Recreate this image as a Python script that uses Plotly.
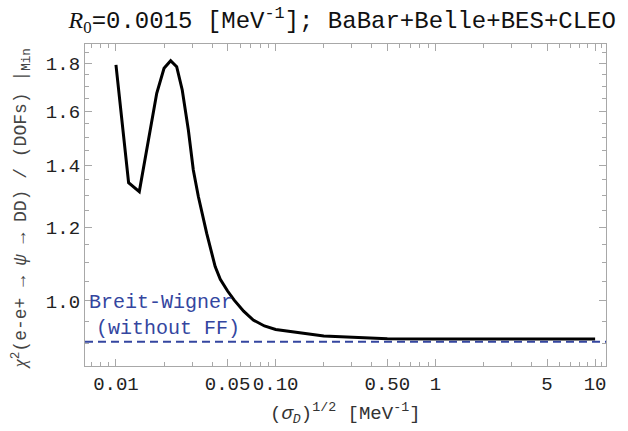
import numpy as np
import plotly.graph_objects as go

# ---- data ----
sigma_sqrt = [0.01, 0.012, 0.014, 0.018, 0.02, 0.022, 0.024, 0.026, 0.0284, 0.0305,
              0.0328, 0.037, 0.0418, 0.045, 0.05, 0.055, 0.063, 0.0724, 0.085, 0.1,
              0.2, 0.5, 1, 2, 5, 10]
chi2_min = [1.794, 1.340, 1.311, 1.672, 1.779, 1.813, 1.786, 1.686, 1.527, 1.383,
            1.295, 1.182, 1.089, 1.055, 1.025, 1.002, 0.975, 0.954, 0.940, 0.932,
            0.917, 0.911, 0.910, 0.910, 0.910, 0.910]
breit_wigner = 0.904

x_tickvals = [0.01, 0.05, 0.1, 0.5, 1, 5, 10]
x_ticktext = ["0.01", "0.05", "0.10", "0.50", "1", "5", "10"]
x_minor = [0.007, 0.008, 0.009, 0.02, 0.03, 0.04, 0.06, 0.07, 0.08, 0.09,
           0.2, 0.3, 0.4, 0.6, 0.7, 0.8, 0.9, 2, 3, 4, 6, 7, 8, 9, 11]
y_tickvals = [1.0, 1.2, 1.4, 1.6, 1.8]
y_ticktext = ["1.0", "1.2", "1.4", "1.6", "1.8"]
y_minor = [0.85, 0.9, 0.95, 1.05, 1.1, 1.15, 1.25, 1.3, 1.35, 1.45, 1.5, 1.55,
           1.65, 1.7, 1.75, 1.85]

MONO = "Liberation Mono, Courier New, monospace"
FRAME = "#a8a8a8"
BLUE = "#3446a0"

fig = go.Figure()
fig.add_trace(go.Scatter(x=sigma_sqrt, y=chi2_min, mode="lines",
                         line=dict(color="black", width=3), showlegend=False))

fig.add_shape(type="line", xref="paper", yref="y", x0=0, x1=1,
              y0=breit_wigner, y1=breit_wigner,
              line=dict(color=BLUE, width=2, dash="8px,5px"))

axis_common = dict(showgrid=False, zeroline=False, showline=True, linecolor=FRAME,
                   linewidth=1.3, mirror="ticks", ticks="inside", ticklen=7,
                   tickcolor=FRAME, tickwidth=1,
                   tickfont=dict(family=MONO, size=19, color="#222"))

fig.update_xaxes(type="log", range=[np.log10(0.0064), np.log10(11.7)],
                 tickmode="array", tickvals=x_tickvals, ticktext=x_ticktext,
                 minor=dict(tickvals=x_minor, ticks="inside", ticklen=4,
                            tickcolor=FRAME, showgrid=False),
                 **axis_common)
fig.update_yaxes(type="log", range=[-0.0699, 0.2763],
                 tickmode="array", tickvals=y_tickvals, ticktext=y_ticktext,
                 minor=dict(tickvals=y_minor, ticks="inside", ticklen=4,
                            tickcolor=FRAME, showgrid=False),
                 **axis_common)

fig.add_annotation(xref="paper", yref="paper", x=-0.123, y=0.49, textangle=-90,
                   showarrow=False, xanchor="center", yanchor="middle",
                   text="<span style=\"font-family:Liberation Serif\"><i>χ</i></span><sup>2</sup>(e-e+ → <i>ψ</i> → DD) / (DOFs) |<sub>Min</sub>",
                   font=dict(family=MONO, size=18, color="#444"))
fig.add_annotation(xref="paper", yref="paper", x=0.5, y=-0.146,
                   showarrow=False, xanchor="center", yanchor="middle",
                   text="(<i>σ</i><sub><i>D</i></sub>)<sup>1/2</sup> [MeV<sup>-1</sup>]",
                   font=dict(family=MONO, size=19, color="#333"))
fig.add_annotation(xref="paper", yref="paper", x=0.004, y=(366 - 302) / 322,
                   showarrow=False, xanchor="left", yanchor="middle",
                   text="Breit-Wigner", font=dict(family=MONO, size=20, color=BLUE))
fig.add_annotation(xref="paper", yref="paper", x=0.017, y=(366 - 328) / 322,
                   showarrow=False, xanchor="left", yanchor="middle",
                   text="(without FF)", font=dict(family=MONO, size=20, color=BLUE))

fig.update_layout(
    width=628, height=431,
    margin=dict(l=85, r=22, t=44, b=65),
    paper_bgcolor="white", plot_bgcolor="white",
    title=dict(text="<span style=\"font-family:Liberation Serif\"><i>R</i><sub>0</sub></span>=0.0015 [MeV<sup>-1</sup>]; BaBar+Belle+BES+CLEO",
               x=0.545, xanchor="center", y=1 - 20 / 431, yanchor="middle",
               font=dict(family=MONO, size=24, color="#111")),
)

fig.write_html("out.html")
